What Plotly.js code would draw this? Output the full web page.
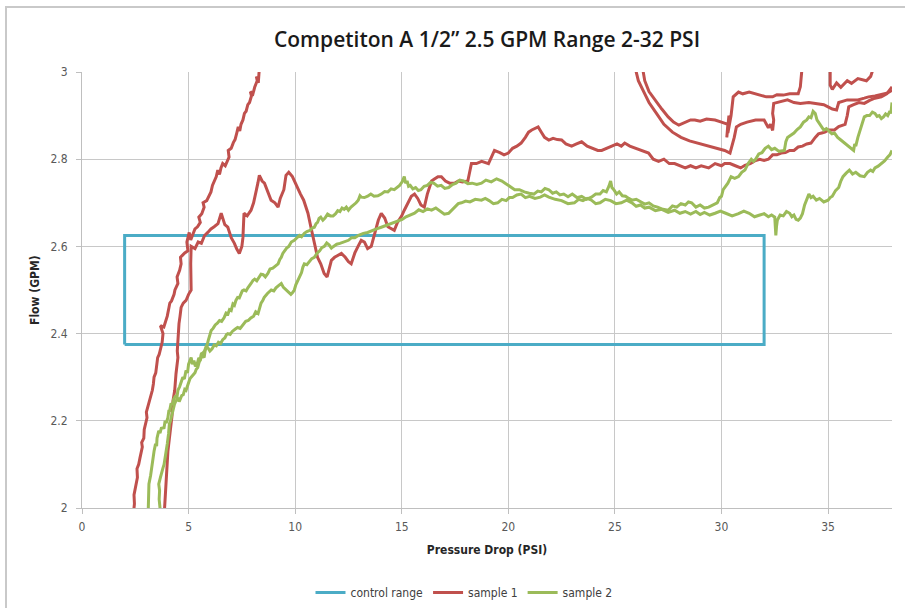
<!DOCTYPE html>
<html>
<head>
<meta charset="utf-8">
<script src="https://cdn.plot.ly/plotly-3.0.1.min.js"></script>
<style>
  html, body { margin: 0; padding: 0; background: #ffffff; }
  #chart { width: 905px; height: 608px; }
</style>
</head>
<body>
<div id="chart"></div>
<script>
// ---------- DATA ----------
const chartTitle = "Competiton A 1/2\u201D 2.5 GPM Range 2-32 PSI";
const xTitle = "Pressure Drop (PSI)";
const yTitle = "Flow (GPM)";
const seriesNames = ["control range", "sample 1", "sample 2"];

// control range: 2-32 PSI, 2.375-2.625 GPM
const controlPsi = [2, 32, 32, 2, 2];
const controlGpm = [2.375, 2.375, 2.625, 2.625, 2.375];

// sample 1 (red) — [PSI, GPM] readings, one array per visible stroke
const s1_rise = [[2.40,1.98],[2.46,2.01],[2.44,2.03],[2.52,2.055],[2.60,2.07],[2.58,2.09],[2.66,2.10],[2.72,2.115],[2.77,2.125],[2.83,2.14],[2.80,2.15],[2.90,2.16],[2.92,2.18],[2.98,2.19],[3.05,2.207],[3.02,2.22],[3.10,2.235],[3.15,2.24],[3.20,2.25],[3.28,2.262],[3.30,2.27],[3.35,2.285],[3.38,2.30],[3.46,2.31],[3.50,2.325],[3.55,2.345],[3.62,2.352],[3.66,2.36],[3.70,2.368],[3.76,2.38],[3.80,2.40],[3.68,2.418],[3.84,2.415],[3.90,2.425],[3.94,2.43],[4.00,2.44],[4.08,2.46],[4.12,2.47],[4.20,2.475],[4.27,2.483],[4.32,2.49],[4.36,2.50],[4.42,2.505],[4.50,2.515],[4.46,2.53],[4.58,2.545],[4.65,2.56],[4.62,2.575],[4.72,2.58],[4.82,2.585],[4.97,2.59],[4.92,2.61],[5.03,2.632],[5.10,2.615],[5.18,2.625],[5.30,2.64],[5.42,2.645],[5.55,2.655],[5.48,2.667],[5.62,2.675],[5.73,2.69],[5.68,2.70],[5.85,2.705],[5.98,2.72],[6.05,2.725],[6.12,2.74],[6.20,2.75],[6.30,2.76],[6.37,2.775],[6.45,2.765],[6.52,2.78],[6.60,2.79],[6.72,2.785],[6.80,2.795],[6.90,2.805],[6.86,2.82],[7.00,2.825],[7.10,2.838],[7.18,2.845],[7.26,2.86],[7.33,2.874],[7.40,2.865],[7.46,2.88],[7.55,2.89],[7.62,2.905],[7.70,2.91],[7.78,2.925],[7.86,2.93],[7.95,2.945],[7.90,2.955],[8.02,2.95],[8.10,2.965],[8.15,2.97],[8.22,2.98],[8.18,2.99],[8.27,2.975],[8.30,2.995],[8.34,3.02]];

const s1_main = [[3.85,1.98],[3.90,2.03],[3.94,2.07],[4.00,2.10],[4.03,2.13],[4.10,2.16],[4.18,2.193],[4.22,2.21],[4.27,2.246],[4.35,2.27],[4.41,2.308],[4.50,2.345],[4.47,2.36],[4.50,2.39],[4.55,2.423],[4.60,2.44],[4.65,2.46],[4.75,2.47],[4.88,2.476],[5.00,2.49],[5.12,2.50],[5.10,2.56],[5.12,2.60],[5.30,2.595],[5.45,2.61],[5.60,2.607],[5.75,2.625],[5.90,2.632],[6.05,2.64],[6.20,2.645],[6.38,2.652],[6.53,2.676],[6.62,2.66],[6.70,2.65],[6.84,2.644],[7.00,2.62],[7.15,2.607],[7.25,2.595],[7.38,2.584],[7.50,2.60],[7.55,2.62],[7.60,2.676],[7.75,2.67],[7.93,2.683],[8.05,2.70],[8.15,2.72],[8.25,2.745],[8.32,2.763],[8.45,2.75],[8.56,2.745],[8.70,2.725],[8.87,2.706],[9.05,2.70],[9.20,2.69],[9.30,2.71],[9.47,2.73],[9.57,2.763],[9.70,2.77],[9.87,2.76],[10.00,2.745],[10.13,2.73],[10.25,2.72],[10.40,2.706],[10.50,2.69],[10.60,2.676],[10.74,2.644],[10.80,2.63],[10.90,2.614],[11.05,2.575],[11.20,2.56],[11.36,2.538],[11.50,2.53],[11.60,2.55],[11.70,2.568],[11.85,2.575],[12.00,2.58],[12.17,2.584],[12.35,2.575],[12.50,2.565],[12.63,2.56],[12.80,2.585],[12.95,2.60],[13.10,2.614],[13.25,2.61],[13.40,2.595],[13.57,2.60],[13.75,2.635],[13.90,2.66],[14.04,2.676],[14.20,2.665],[14.35,2.645],[14.50,2.64],[14.65,2.637],[14.80,2.655],[15.00,2.67],[15.12,2.683],[15.30,2.70],[15.45,2.715],[15.60,2.72],[15.75,2.71],[15.90,2.695],[16.06,2.69],[16.20,2.72],[16.40,2.75],[16.55,2.755],[16.70,2.76],[16.86,2.76],[17.05,2.75],[17.25,2.745],[17.47,2.745],[17.65,2.75],[17.85,2.748],[18.10,2.75],[18.20,2.77],[18.27,2.79],[18.50,2.79],[18.75,2.795],[19.07,2.79],[19.20,2.805],[19.35,2.82],[19.60,2.815],[19.80,2.81],[20.00,2.814],[20.20,2.825],[20.40,2.83],[20.60,2.837],[20.80,2.85],[20.95,2.862],[21.10,2.867],[21.25,2.87],[21.40,2.874],[21.55,2.862],[21.70,2.85],[21.90,2.844],[22.10,2.848],[22.30,2.845],[22.50,2.844],[22.70,2.835],[22.97,2.83],[23.20,2.835],[23.44,2.84],[23.70,2.83],[23.95,2.825],[24.20,2.82],[24.38,2.82],[24.60,2.825],[24.85,2.83],[25.10,2.835],[25.30,2.83],[25.46,2.837],[25.70,2.83],[25.95,2.825],[26.20,2.82],[26.58,2.814],[26.80,2.80],[27.05,2.795],[27.30,2.80],[27.55,2.79],[27.80,2.79],[28.05,2.785],[28.30,2.78],[28.55,2.785],[28.80,2.78],[29.05,2.785],[29.40,2.78],[29.70,2.79],[30.00,2.785],[30.15,2.79],[30.40,2.79],[30.65,2.785],[30.90,2.78],[31.10,2.786],[31.35,2.79],[31.60,2.797],[31.80,2.80],[32.00,2.797],[32.20,2.80],[32.40,2.81],[32.60,2.81],[32.80,2.814],[33.00,2.815],[33.20,2.82],[33.40,2.82],[33.60,2.828],[33.80,2.83],[34.00,2.835],[34.20,2.837],[34.40,2.85],[34.55,2.858],[34.70,2.86],[34.85,2.862],[35.04,2.867],[35.30,2.867],[35.50,2.875],[35.80,2.88],[35.90,2.90],[35.97,2.92],[36.20,2.925],[36.45,2.93],[36.70,2.928],[36.95,2.935],[37.20,2.94],[37.50,2.943],[37.75,2.95],[38.00,2.966]];

const s1_loopInner = [[26.26,3.02],[26.40,2.98],[26.60,2.955],[26.87,2.936],[27.20,2.915],[27.50,2.897],[27.75,2.885],[28.00,2.878],[28.30,2.885],[28.55,2.89],[28.75,2.89],[29.00,2.887],[29.30,2.892],[29.70,2.89],[30.00,2.885],[30.30,2.88],[30.25,2.85],[30.35,2.90],[30.30,2.86],[30.45,2.90],[30.50,2.92],[30.55,2.943],[30.80,2.954],[31.00,2.95],[31.30,2.954],[31.60,2.95],[31.90,2.947],[32.10,2.943],[32.40,2.943],[32.60,2.948],[32.90,2.947],[33.20,2.95],[33.45,2.95],[33.60,2.95],[33.70,2.966],[33.75,2.99],[33.80,3.02]];

const s1_loopOuter = [[25.90,3.02],[26.10,2.98],[26.35,2.955],[26.60,2.93],[26.95,2.905],[27.30,2.88],[27.70,2.862],[28.10,2.85],[28.50,2.842],[28.80,2.838],[29.07,2.835],[29.40,2.83],[29.80,2.825],[30.15,2.82],[30.40,2.814],[30.50,2.83],[30.60,2.85],[30.70,2.874],[30.90,2.88],[31.20,2.885],[31.60,2.89],[32.00,2.89],[32.20,2.872],[32.30,2.88],[32.40,2.866],[32.45,2.89],[32.40,2.905],[32.45,2.928],[32.80,2.932],[33.10,2.936],[33.40,2.93],[33.70,2.928],[34.10,2.93],[34.50,2.928],[34.80,2.925],[35.00,2.92],[35.20,2.915],[35.40,2.913],[35.50,2.93],[35.90,2.936],[36.20,2.935],[36.40,2.936],[36.70,2.94],[36.90,2.943],[37.20,2.945],[37.50,2.948],[37.80,2.952],[38.00,2.958]];

const s1_topRight = [[35.10,3.02],[35.10,2.97],[35.20,2.96],[35.40,2.975],[35.60,2.965],[35.90,2.98],[36.10,2.974],[36.40,2.985],[36.80,2.98],[37.00,2.99],[37.20,3.02]];

// sample 2 (green)
const s2_upper = [[3.10,1.98],[3.12,2.02],[3.16,2.035],[3.14,2.055],[3.22,2.075],[3.26,2.09],[3.30,2.10],[3.34,2.125],[3.38,2.13],[3.45,2.147],[3.50,2.142],[3.52,2.16],[3.60,2.177],[3.66,2.172],[3.72,2.183],[3.85,2.184],[3.90,2.20],[3.95,2.195],[4.03,2.207],[4.08,2.225],[4.10,2.22],[4.18,2.24],[4.24,2.236],[4.30,2.25],[4.40,2.258],[4.45,2.252],[4.50,2.27],[4.58,2.278],[4.62,2.285],[4.73,2.30],[4.80,2.296],[4.88,2.315],[4.95,2.31],[5.00,2.33],[5.08,2.34],[5.12,2.345],[5.18,2.33],[5.25,2.338],[5.32,2.325],[5.40,2.33],[5.48,2.344],[5.55,2.34],[5.64,2.35],[5.73,2.345],[5.78,2.362],[5.85,2.37],[5.92,2.384],[6.00,2.395],[6.06,2.407],[6.15,2.412],[6.25,2.42],[6.35,2.424],[6.45,2.43],[6.55,2.428],[6.67,2.437],[6.76,2.447],[6.85,2.445],[6.92,2.455],[7.00,2.453],[7.08,2.468],[7.15,2.465],[7.22,2.476],[7.30,2.483],[7.38,2.482],[7.45,2.49],[7.52,2.498],[7.60,2.50],[7.70,2.498],[7.78,2.505],[7.86,2.512],[7.93,2.515],[8.02,2.522],[8.10,2.525],[8.20,2.521],[8.30,2.53],[8.40,2.536],[8.50,2.535],[8.60,2.53],[8.72,2.538],[8.82,2.548],[8.95,2.55],[9.08,2.556],[9.20,2.56],[9.28,2.57],[9.35,2.575],[9.42,2.584],[9.50,2.59],[9.60,2.596],[9.70,2.60],[9.82,2.61],[9.96,2.614],[10.08,2.62],[10.20,2.625],[10.30,2.622],[10.43,2.63],[10.55,2.634],[10.70,2.637],[10.80,2.642],[10.90,2.644],[10.98,2.652],[11.05,2.655],[11.12,2.664],[11.20,2.667],[11.30,2.66],[11.40,2.665],[11.52,2.674],[11.65,2.67],[11.78,2.67],[11.90,2.675],[12.00,2.682],[12.10,2.68],[12.20,2.688],[12.30,2.685],[12.40,2.69],[12.50,2.683],[12.62,2.69],[12.75,2.695],[12.86,2.70],[12.96,2.706],[13.04,2.716],[13.10,2.713],[13.25,2.712],[13.40,2.715],[13.55,2.72],[13.70,2.715],[13.88,2.716],[14.04,2.72],[14.20,2.726],[14.35,2.725],[14.50,2.732],[14.65,2.73],[14.78,2.735],[14.90,2.74],[15.02,2.748],[15.12,2.76],[15.18,2.745],[15.25,2.75],[15.32,2.738],[15.40,2.74],[15.52,2.732],[15.65,2.735],[15.78,2.728],[15.90,2.73],[16.05,2.738],[16.20,2.74],[16.35,2.747],[16.50,2.745],[16.68,2.738],[16.85,2.74],[17.02,2.733],[17.20,2.735],[17.38,2.742],[17.55,2.745],[17.72,2.752],[17.90,2.75],[18.10,2.744],[18.30,2.745],[18.52,2.742],[18.74,2.745],[18.95,2.752],[19.20,2.748],[19.45,2.755],[19.70,2.75],[19.85,2.745],[20.00,2.74],[20.15,2.736],[20.30,2.73],[20.52,2.73],[20.75,2.725],[20.98,2.722],[21.20,2.72],[21.38,2.727],[21.55,2.725],[21.72,2.733],[21.90,2.73],[22.08,2.722],[22.25,2.725],[22.42,2.718],[22.60,2.72],[22.80,2.714],[23.00,2.72],[23.22,2.712],[23.44,2.715],[23.66,2.708],[23.90,2.713],[24.10,2.72],[24.30,2.72],[24.45,2.728],[24.60,2.725],[24.72,2.738],[24.80,2.75],[24.86,2.735],[24.95,2.73],[25.08,2.72],[25.20,2.725],[25.35,2.716],[25.50,2.715],[25.65,2.71],[25.80,2.706],[26.00,2.708],[26.20,2.703],[26.40,2.697],[26.60,2.70],[26.80,2.693],[27.00,2.69],[27.25,2.685],[27.50,2.683],[27.70,2.693],[27.90,2.69],[28.10,2.698],[28.30,2.695],[28.45,2.702],[28.60,2.70],[28.80,2.69],[29.00,2.695],[29.20,2.688],[29.40,2.69],[29.60,2.696],[29.80,2.70],[29.92,2.712],[30.00,2.715],[30.08,2.73],[30.15,2.735],[30.30,2.745],[30.45,2.76],[30.62,2.756],[30.80,2.76],[30.95,2.77],[31.10,2.775],[31.25,2.79],[31.40,2.80],[31.50,2.795],[31.60,2.80],[31.75,2.812],[31.90,2.815],[32.05,2.825],[32.20,2.83],[32.35,2.822],[32.50,2.825],[32.70,2.818],[32.95,2.82],[33.02,2.84],[33.10,2.85],[33.25,2.855],[33.40,2.86],[33.55,2.868],[33.70,2.874],[33.85,2.885],[34.00,2.89],[34.10,2.897],[34.20,2.895],[34.30,2.91],[34.40,2.905],[34.48,2.89],[34.55,2.885],[34.68,2.875],[34.80,2.867],[34.92,2.87],[35.05,2.865],[35.18,2.858],[35.30,2.86],[35.45,2.85],[35.60,2.844],[35.75,2.838],[35.90,2.83],[36.05,2.826],[36.20,2.82],[36.25,2.835],[36.30,2.83],[36.40,2.85],[36.48,2.862],[36.55,2.875],[36.62,2.888],[36.70,2.897],[36.82,2.90],[36.95,2.90],[37.08,2.908],[37.20,2.905],[37.30,2.898],[37.40,2.90],[37.50,2.893],[37.60,2.897],[37.70,2.904],[37.80,2.90],[37.90,2.91],[37.95,2.905],[38.00,2.93]];

const s2_lower = [[3.70,1.98],[3.66,2.00],[3.62,2.02],[3.64,2.04],[3.60,2.055],[3.68,2.07],[3.72,2.08],[3.80,2.092],[3.85,2.10],[3.92,2.118],[3.95,2.13],[3.98,2.14],[4.00,2.147],[4.06,2.17],[4.10,2.193],[4.15,2.20],[4.20,2.21],[4.24,2.225],[4.27,2.23],[4.34,2.238],[4.40,2.245],[4.46,2.25],[4.50,2.253],[4.56,2.244],[4.62,2.25],[4.68,2.258],[4.75,2.26],[4.82,2.272],[4.88,2.27],[4.94,2.28],[5.00,2.285],[5.06,2.296],[5.12,2.30],[5.20,2.305],[5.30,2.31],[5.36,2.318],[5.43,2.322],[5.50,2.335],[5.55,2.34],[5.58,2.35],[5.60,2.354],[5.68,2.356],[5.75,2.36],[5.82,2.37],[5.90,2.368],[6.00,2.36],[6.10,2.365],[6.20,2.374],[6.30,2.372],[6.40,2.38],[6.50,2.377],[6.60,2.386],[6.70,2.39],[6.78,2.398],[6.84,2.40],[6.95,2.398],[7.05,2.405],[7.18,2.41],[7.30,2.414],[7.42,2.412],[7.55,2.42],[7.68,2.428],[7.80,2.43],[7.92,2.436],[8.05,2.44],[8.15,2.45],[8.26,2.446],[8.34,2.462],[8.40,2.47],[8.48,2.476],[8.55,2.483],[8.70,2.492],[8.88,2.50],[9.00,2.498],[9.10,2.505],[9.22,2.51],[9.35,2.515],[9.45,2.506],[9.60,2.50],[9.70,2.495],[9.80,2.49],[9.88,2.494],[9.96,2.50],[10.03,2.512],[10.10,2.52],[10.20,2.532],[10.30,2.54],[10.36,2.552],[10.43,2.56],[10.55,2.558],[10.65,2.565],[10.78,2.572],[10.90,2.575],[11.02,2.584],[11.15,2.59],[11.25,2.597],[11.37,2.60],[11.48,2.608],[11.60,2.603],[11.70,2.596],[11.80,2.60],[11.95,2.605],[12.10,2.607],[12.30,2.61],[12.50,2.614],[12.65,2.62],[12.80,2.62],[13.00,2.626],[13.20,2.63],[13.40,2.632],[13.60,2.635],[13.82,2.64],[14.04,2.644],[14.25,2.648],[14.45,2.652],[14.65,2.656],[14.84,2.66],[15.02,2.662],[15.20,2.668],[15.40,2.672],[15.60,2.676],[15.80,2.684],[16.00,2.68],[16.20,2.686],[16.40,2.683],[16.60,2.688],[16.80,2.68],[17.00,2.674],[17.20,2.676],[17.35,2.684],[17.50,2.69],[17.65,2.698],[17.80,2.70],[18.00,2.704],[18.20,2.702],[18.45,2.708],[18.74,2.706],[18.92,2.71],[19.10,2.705],[19.30,2.698],[19.50,2.70],[19.70,2.708],[19.90,2.705],[20.05,2.712],[20.20,2.712],[20.40,2.718],[20.60,2.72],[20.80,2.712],[21.00,2.715],[21.25,2.71],[21.50,2.713],[21.70,2.718],[21.90,2.713],[22.20,2.708],[22.50,2.705],[22.80,2.698],[23.10,2.70],[23.30,2.708],[23.50,2.705],[23.70,2.71],[23.90,2.706],[24.10,2.698],[24.30,2.70],[24.55,2.708],[24.80,2.705],[25.05,2.698],[25.30,2.70],[25.55,2.706],[25.80,2.70],[26.00,2.692],[26.20,2.695],[26.40,2.688],[26.60,2.69],[26.90,2.682],[27.20,2.685],[27.50,2.678],[27.80,2.683],[28.05,2.676],[28.30,2.68],[28.55,2.674],[28.80,2.68],[29.00,2.673],[29.20,2.678],[29.45,2.672],[29.70,2.676],[29.95,2.681],[30.20,2.676],[30.50,2.67],[30.80,2.675],[31.05,2.681],[31.30,2.676],[31.55,2.668],[31.80,2.672],[32.00,2.675],[32.20,2.668],[32.35,2.672],[32.50,2.667],[32.52,2.635],[32.55,2.625],[32.58,2.645],[32.62,2.66],[32.75,2.672],[32.90,2.67],[33.05,2.68],[33.20,2.676],[33.30,2.668],[33.40,2.672],[33.50,2.662],[33.60,2.66],[33.70,2.665],[33.80,2.675],[33.90,2.695],[34.00,2.71],[34.10,2.72],[34.20,2.712],[34.30,2.715],[34.45,2.706],[34.60,2.71],[34.80,2.702],[35.00,2.706],[35.10,2.712],[35.20,2.715],[35.35,2.728],[35.50,2.735],[35.60,2.75],[35.70,2.76],[35.85,2.768],[36.00,2.775],[36.15,2.766],[36.30,2.77],[36.50,2.762],[36.70,2.76],[36.85,2.77],[37.00,2.775],[37.10,2.772],[37.20,2.78],[37.35,2.784],[37.50,2.79],[37.65,2.796],[37.80,2.805],[37.90,2.81],[38.00,2.82]];

const sample1Strokes = [s1_rise, s1_main, s1_loopInner, s1_loopOuter, s1_topRight];
const sample2Strokes = [s2_upper, s2_lower];

// ---------- BUILD ----------
function joinStrokes(strokes) {
  const xs = [], ys = [];
  strokes.forEach((st, i) => {
    if (i > 0) { xs.push(null); ys.push(null); }
    st.forEach(p => { xs.push(p[0]); ys.push(p[1]); });
  });
  return { x: xs, y: ys };
}
const s1 = joinStrokes(sample1Strokes);
const s2 = joinStrokes(sample2Strokes);

const colors = ["#4bacc6", "#c0504d", "#9bbb59"];
const narrow = "Liberation Sans Narrow, DejaVu Sans Condensed, sans-serif";
const tickFont = { family: narrow, size: 12, color: "#595959" };

const traces = [
  { x: controlPsi, y: controlGpm, name: seriesNames[0], mode: "lines", type: "scatter",
    line: { color: colors[0], width: 3 } },
  { x: s1.x, y: s1.y, name: seriesNames[1], mode: "lines", type: "scatter",
    line: { color: colors[1], width: 3 }, connectgaps: false },
  { x: s2.x, y: s2.y, name: seriesNames[2], mode: "lines", type: "scatter",
    line: { color: colors[2], width: 3 }, connectgaps: false }
];

const layout = {
  width: 905, height: 608,
  margin: { l: 82, r: 13, t: 72, b: 100, pad: 0, autoexpand: false },
  paper_bgcolor: "#ffffff", plot_bgcolor: "#ffffff",
  title: { text: chartTitle, x: 0.5, xref: "paper", xanchor: "center", y: 1 - 40/608, yanchor: "middle",
           font: { family: "Open Sans, Roboto, sans-serif", size: 21, weight: 600, color: "#1a1a1a" } },
  xaxis: {
    range: [0, 38], tick0: 0, dtick: 5, showgrid: true, gridcolor: "#c8c8c8", gridwidth: 1,
    zeroline: false, showline: true, linecolor: "#bfbfbf", linewidth: 1,
    ticks: "outside", ticklen: 5, tickcolor: "#bfbfbf", tickfont: tickFont, ticklabelstandoff: 3,
    title: { text: xTitle, font: { family: narrow, size: 12, weight: "bold", color: "#262626" } }
  },
  yaxis: {
    range: [2, 3], tick0: 2, dtick: 0.2, showgrid: true, gridcolor: "#c8c8c8", gridwidth: 1,
    zeroline: false, showline: true, linecolor: "#bfbfbf", linewidth: 1,
    ticks: "outside", ticklen: 5, tickcolor: "#bfbfbf", tickfont: tickFont, ticklabelstandoff: 6
  },
  annotations: [
    { text: yTitle, xref: "paper", yref: "paper", x: (35 - 82) / 810, y: 0.5, xanchor: "center", yanchor: "middle",
      textangle: -90, showarrow: false, font: { family: narrow, size: 12, weight: "bold", color: "#262626" } }
  ],
  showlegend: true,
  legend: { orientation: "h", x: 0.4716, xanchor: "center", y: -0.194, yanchor: "middle",
            font: { family: narrow, size: 12, color: "#404040" },
            traceorder: "normal", itemwidth: 30, bgcolor: "rgba(0,0,0,0)" },
  shapes: [
    { type: "rect", xref: "paper", yref: "paper",
      x0: (6 - 82) / 810, x1: (912 - 82) / 810, y0: (508 - 614) / 436, y1: (508 - 7) / 436,
      line: { color: "#c9c9c9", width: 2 }, fillcolor: "rgba(0,0,0,0)", layer: "below" }
  ]
};

Plotly.newPlot("chart", traces, layout, { displayModeBar: false, staticPlot: true });
</script>
</body>
</html>
